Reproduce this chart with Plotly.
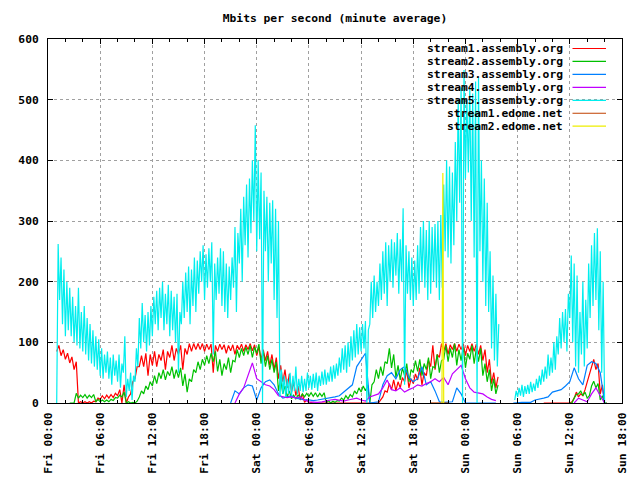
import plotly.graph_objects as go

# ---------------- data (hours since Fri 00:00) ----------------
tick_hours = [0, 6, 12, 18, 24, 30, 36, 42, 48, 54, 60, 66]
tick_labels = ["Fri 00:00", "Fri 06:00", "Fri 12:00", "Fri 18:00",
               "Sat 00:00", "Sat 06:00", "Sat 12:00", "Sat 18:00",
               "Sun 00:00", "Sun 06:00", "Sun 12:00", "Sun 18:00"]

series_names = ["stream1.assembly.org", "stream2.assembly.org", "stream3.assembly.org",
                "stream4.assembly.org", "stream5.assembly.org", "stream1.edome.net",
                "stream2.edome.net"]
series_colors = ["#ff0000", "#00c000", "#0080ff", "#c000ff", "#00eeee", "#c04000", "#eeee00"]

# Noisy series are given as (low, high) readings for each time slot.
# stream1.assembly.org (red), half-hour slots
red_a_start, red_a_step = 1.0, 0.5
red_a = [(85, 95), (78, 88), (72, 82), (66, 76), (55, 68), (0, 2), (0, 2), (0, 2),
         (0, 3), (2, 8), (6, 12), (7, 13), (8, 14), (9, 16), (12, 22), (0, 30),
         (0, 10), (15, 35), (40, 60), (60, 78), (60, 82), (45, 80), (62, 85), (60, 80),
         (70, 88), (55, 85), (75, 95), (70, 90), (80, 95), (55, 90), (80, 98), (85, 98),
         (88, 98), (88, 98), (85, 97), (88, 97), (50, 95), (85, 97), (88, 96), (82, 95),
         (86, 96), (80, 95), (88, 97), (85, 96), (88, 98), (86, 96), (78, 92), (72, 88),
         (70, 85), (62, 80), (55, 75), (40, 62), (35, 55), (25, 48), (18, 35), (12, 28),
         (5, 15), (1, 5), (0, 1),
         (0, 0), (0, 0), (0, 0), (0, 0), (0, 0), (0, 0), (0, 0), (0, 0),
         (0, 0), (0, 0), (0, 0), (0, 0), (0, 0), (0, 0), (0, 0),
         (0, 5), (10, 20), (18, 32), (22, 38), (20, 35), (25, 42), (35, 55), (25, 40),
         (32, 48), (38, 58), (30, 50), (45, 70), (60, 95), (55, 80), (75, 98), (85, 98),
         (80, 96), (88, 98), (85, 97), (88, 98), (78, 95), (85, 98), (85, 97), (80, 95),
         (70, 88), (50, 72), (32, 50), (25, 43)]
red_b_start, red_b_step = 57.0, 0.5
red_b = [(0, 0), (0, 0), (0, 0), (0, 0), (0, 0), (0, 0), (0, 2), (8, 18), (10, 15),
         (12, 22), (35, 45), (62, 72), (55, 65), (15, 30), (0, 0)]

# stream2.assembly.org (green)
green_a_start, green_a_step = 2.5, 0.5
green_a = [(0, 0), (0, 16), (8, 13), (9, 14), (8, 13), (9, 14), (2, 6), (2, 5),
           (2, 5), (2, 6), (4, 9), (8, 13), (10, 18), (0, 2), (0, 1), (0, 3),
           (10, 20), (15, 28), (22, 35), (28, 45), (32, 50), (40, 55), (38, 52), (45, 60),
           (40, 55), (42, 58), (28, 48), (18, 40), (35, 55), (50, 68), (55, 72), (62, 78),
           (65, 82), (68, 85), (52, 72), (45, 65), (55, 75), (50, 70), (68, 88), (75, 90),
           (78, 92), (80, 95), (75, 92), (82, 97), (65, 85), (60, 78), (55, 72), (50, 68),
           (20, 40), (15, 28), (10, 20), (7, 13), (7, 13), (9, 15), (10, 16), (11, 17),
           (11, 17), (10, 16), (11, 17), (0, 4), (0, 3), (1, 4), (3, 8), (5, 12),
           (7, 14), (10, 20), (15, 25), (18, 28), (20, 30), (0, 30), (35, 55), (40, 60),
           (45, 68), (65, 90), (58, 80), (42, 62), (38, 58), (45, 65), (35, 55), (50, 70),
           (52, 72), (45, 65), (55, 75), (40, 60), (58, 80), (50, 70), (72, 95), (68, 90),
           (75, 98), (62, 88), (70, 92), (58, 82), (72, 95), (65, 90), (68, 90), (45, 65),
           (35, 55), (20, 40), (15, 30)]
green_b_start, green_b_step = 60.0, 0.5
green_b = [(0, 0), (8, 14), (15, 20), (12, 18), (8, 12), (28, 36), (25, 32), (5, 12), (0, 0)]

# stream3.assembly.org (blue), single half-hour readings
blue_a_start, blue_a_step = 21.0, 0.5
blue_a = [0, 20, 15, 25, 30, 28, 5, 25, 35, 38, 30, 15, 8, 10, 12, 8, 6, 5, 5, 4,
          5, 6, 8, 9, 10, 12, 18, 25, 30, 60, 70, 82, 0, 1, 2, 30, 45, 50, 40, 55,
          60, 42, 35, 40, 60, 30, 35, 20, 2, 1, 1, 2, 25, 15, 0, 0, 0, 0, 0, 0,
          0, 0]
blue_b_start, blue_b_step = 53.5, 0.5
blue_b = [0, 1, 1, 1, 1, 5, 6, 8, 10, 18, 20, 22, 28, 35, 58, 40, 30, 62, 68, 65, 50, 0]

# stream4.assembly.org (purple)
purple_a_start, purple_a_step = 21.5, 0.5
purple_a = [0, 15, 25, 45, 66, 40, 35, 30, 28, 22, 12, 10, 9, 10, 8, 10, 5, 2, 1, 1,
            2, 4, 5, 6, 4, 3, 5, 6, 8, 5, 3, 10, 12, 15, 25, 38, 22, 20, 25, 18,
            22, 25, 30, 28, 32, 35, 40, 35, 42, 30, 48, 55, 62, 40, 25, 18, 16, 15, 10, 6,
            4]
purple_b_start, purple_b_step = 60.5, 0.5
purple_b = [0, 8, 5, 2, 15, 25, 12, 0]

# stream5.assembly.org (cyan), 20-minute slots of (low, high)
cyan_a_start, cyan_a_step = 1.0, 1.0 / 3.0
cyan_a = [(0, 262), (170, 240), (130, 220), (110, 200), (120, 190), (110, 175),
          (100, 160), (95, 190), (90, 150), (85, 160), (80, 140), (70, 130),
          (65, 120), (60, 110), (55, 105), (45, 90), (40, 80), (50, 85),
          (40, 75), (30, 80), (45, 70), (35, 80), (25, 65), (50, 110),
          (10, 40), (20, 50), (5, 45), (35, 90), (60, 140), (90, 165),
          (100, 145), (85, 150), (95, 160), (110, 175), (130, 185), (120, 190),
          (140, 200), (120, 180), (130, 195), (110, 185), (120, 175), (100, 180),
          (50, 150), (130, 200), (140, 215), (150, 225), (130, 220), (160, 240),
          (150, 235), (180, 250), (200, 260), (170, 245), (190, 255), (200, 265),
          (80, 230), (170, 240), (180, 255), (160, 250), (150, 230), (140, 225),
          (170, 240), (190, 290), (150, 280), (230, 320), (200, 340), (260, 360),
          (240, 370), (280, 400), (300, 458), (250, 400), (270, 380), (0, 350),
          (250, 340), (200, 330), (230, 334), (170, 320), (140, 300), (10, 55),
          (15, 45), (10, 40), (15, 50), (12, 45), (20, 60), (15, 40),
          (20, 45), (18, 40), (20, 50), (25, 45), (22, 48), (25, 50),
          (20, 45), (28, 52), (30, 55), (30, 50), (35, 60), (35, 62),
          (40, 65), (45, 75), (50, 90), (55, 95), (50, 100), (60, 110),
          (70, 120), (75, 130), (80, 125), (85, 130), (90, 135), (0, 120),
          (130, 200), (140, 210), (150, 200), (160, 230), (170, 250), (180, 265),
          (160, 260), (200, 270), (190, 265), (210, 280), (180, 270), (200, 321),
          (30, 260), (180, 250), (170, 240), (160, 235), (170, 260), (180, 290),
          (200, 300), (190, 285), (170, 300), (180, 290), (200, 295), (190, 300),
          (170, 310), (190, 360), (250, 400), (240, 390), (230, 380), (260, 430),
          (300, 500), (330, 520), (0, 549), (370, 500), (380, 520), (300, 510),
          (240, 530), (0, 537), (250, 400), (200, 370), (160, 330), (150, 250),
          (90, 210), (70, 180), (60, 130)]
cyan_b_start, cyan_b_step = 53.0 + 2.0 / 3.0, 1.0 / 3.0
cyan_b = [(5, 20), (10, 25), (12, 30), (10, 28), (15, 30), (15, 35), (18, 32),
          (20, 40), (25, 45), (30, 55), (35, 60), (40, 80), (45, 75), (50, 100),
          (55, 110), (80, 140), (90, 150), (100, 155), (85, 180), (140, 243),
          (100, 230), (60, 210), (50, 150), (80, 200), (60, 170), (90, 230),
          (140, 260), (160, 280), (170, 288), (120, 250), (50, 200), (0, 0)]

# stream1.edome.net (brown) and stream2.edome.net (yellow)
brown_t = [44.0, 46.0]
brown_v = [0, 0]
yellow_t = [45.3, 45.4, 45.5]
yellow_v = [0, 379, 0]


def single(start, step, vals):
    return [start + i * step for i in range(len(vals))], list(vals)


def banded(start, step, pairs):
    xs, ys = [], []
    for i, (lo, hi) in enumerate(pairs):
        t = start + i * step
        xs += [t, t + step / 2]
        ys += [lo, hi]
    return xs, ys


def join(*parts):
    xs, ys = [], []
    for k, (px, py) in enumerate(parts):
        if k:
            xs.append(None)
            ys.append(None)
        xs += px
        ys += py
    return xs, ys


traces = [
    join(banded(red_a_start, red_a_step, red_a), banded(red_b_start, red_b_step, red_b)),
    join(banded(green_a_start, green_a_step, green_a),
         banded(green_b_start, green_b_step, green_b)),
    join(single(blue_a_start, blue_a_step, blue_a), single(blue_b_start, blue_b_step, blue_b)),
    join(single(purple_a_start, purple_a_step, purple_a),
         single(purple_b_start, purple_b_step, purple_b)),
    join(banded(cyan_a_start, cyan_a_step, cyan_a), banded(cyan_b_start, cyan_b_step, cyan_b)),
    (brown_t, brown_v),
    (yellow_t, yellow_v),
]

FONT = dict(family="DejaVu Sans Mono", size=11.3, color="black", weight="bold")

fig = go.Figure()
for (xs, ys), name, col in zip(traces, series_names, series_colors):
    fig.add_trace(go.Scatter(x=xs, y=ys, mode="lines", name=name,
                             line=dict(color=col, width=1.2), showlegend=False,
                             connectgaps=False, hoverinfo="skip"))

# gnuplot-style key: text right-aligned, line sample on the right
L, R, T, B = 48, 622, 39, 403
W, H = R - L, B - T
for i, (name, col) in enumerate(zip(series_names, series_colors)):
    yc = 48.5 + 12.95 * i
    yp = (B - yc) / H
    fig.add_annotation(x=(565 - L) / W, y=yp, xref="paper", yref="paper",
                       text=name, showarrow=False, xanchor="right", yanchor="middle",
                       font=FONT)
    fig.add_shape(type="line", xref="paper", yref="paper",
                  x0=(572.5 - L) / W, x1=(606 - L) / W, y0=yp, y1=yp,
                  line=dict(color=col, width=1.2))

axis_common = dict(showline=True, linecolor="black", linewidth=1, mirror="ticks",
                   ticks="inside", tickcolor="black", tickwidth=1,
                   showgrid=True, gridcolor="#a0a0a0", gridwidth=1, griddash="3px,3px",
                   zeroline=False, tickfont=FONT, automargin=False)

fig.update_layout(
    width=640, height=480,
    margin=dict(l=L, r=640 - R, t=T, b=480 - B, autoexpand=False),
    paper_bgcolor="white", plot_bgcolor="white",
    title=dict(text="Mbits per second (minute average)", x=0.5, xref="paper",
               xanchor="center", y=1 - 18 / 480, yref="container", yanchor="middle",
               font=FONT),
    xaxis=dict(range=[0, 66], tickmode="array", tickvals=tick_hours, ticktext=tick_labels,
               tickangle=-90, ticklen=5, ticklabelstandoff=4,
               minor=dict(dtick=2, tick0=0, ticks="inside", ticklen=3,
                          tickcolor="black", showgrid=False),
               **axis_common),
    yaxis=dict(range=[0, 600], tickmode="linear", tick0=0, dtick=100, ticklen=5,
               ticklabelstandoff=6, **axis_common),
)

fig.write_html("out.html", config={"displayModeBar": False},
               post_script="document.body.style.margin='0';document.body.style.padding='0';")
